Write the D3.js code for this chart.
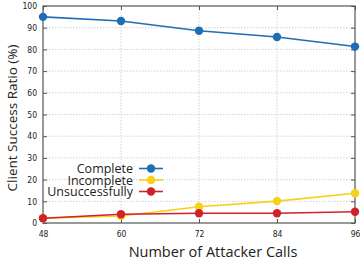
<!DOCTYPE html>
<html><head><meta charset="utf-8">
<script src="https://cdn.jsdelivr.net/npm/d3@7"></script>
<style>body{margin:0;background:#fff}svg{display:block}</style>
</head><body><svg id="c" width="360" height="262"></svg>
<script>
const categories = [48, 60, 72, 84, 96];
const complete = [95, 93.1, 88.6, 85.7, 81.3];
const incomplete = [2.2, 3.2, 7.5, 10.1, 13.7];
const unsuccessfully = [2.2, 4.0, 4.5, 4.5, 5.2];
const yTicks = [0,10,20,30,40,50,60,70,80,90,100];
const seriesNames = ["Complete", "Incomplete", "Unsuccessfully"];
const colors = ["#1f6db5", "#f7d118", "#d0222a"];
const series = [complete, incomplete, unsuccessfully];

const svg = d3.select("#c");
const m = {l:43, r:355, t:6, b:223};
const x = d3.scaleLinear().domain([48,96]).range([m.l, m.r]);
const y = d3.scaleLinear().domain([0,100]).range([m.b, m.t]);
const tickFont = "'DejaVu Sans Condensed', 'DejaVu Sans', sans-serif";
const font = "'Open Sans', 'Noto Sans', sans-serif";

// grid
const g = svg.append("g");
g.selectAll(".gx").data(categories.slice(1,-1)).enter().append("line")
  .attr("x1", d=>x(d)).attr("x2", d=>x(d)).attr("y1", m.t).attr("y2", m.b)
  .attr("stroke", "#c8c8c8").attr("stroke-width", 0.8).attr("stroke-dasharray", "1.5,1.5");
g.selectAll(".gy").data(yTicks.slice(1,-1)).enter().append("line")
  .attr("x1", m.l).attr("x2", m.r).attr("y1", d=>y(d)).attr("y2", d=>y(d))
  .attr("stroke", "#c8c8c8").attr("stroke-width", 0.8).attr("stroke-dasharray", "1.5,1.5");

// axes
const axB = d3.axisBottom(x).tickValues(categories).tickSizeInner(-4).tickSizeOuter(0).tickPadding(8);
const axL = d3.axisLeft(y).tickValues(yTicks).tickSizeInner(-4).tickSizeOuter(0).tickPadding(6);
const axT = d3.axisTop(x).tickValues(categories).tickSizeInner(-4).tickSizeOuter(0).tickFormat("");
const axR = d3.axisRight(y).tickValues(yTicks).tickSizeInner(-4).tickSizeOuter(0).tickFormat("");
function style(sel){
  sel.select(".domain").remove();
  sel.selectAll("line").attr("stroke", "#555").attr("stroke-width", 1);
  sel.selectAll("text").attr("font-family", tickFont).attr("font-size", "8.5px").attr("fill", "#222");
}
svg.append("g").attr("transform", `translate(0,${m.b})`).call(axB).call(style);
svg.append("g").attr("transform", `translate(${m.l},0)`).call(axL).call(style);
svg.append("g").attr("transform", `translate(0,${m.t})`).call(axT).call(style);
svg.append("g").attr("transform", `translate(${m.r},0)`).call(axR).call(style);
svg.append("rect").attr("x", m.l).attr("y", m.t).attr("width", m.r-m.l).attr("height", m.b-m.t)
  .attr("fill", "none").attr("stroke", "#555").attr("stroke-width", 1.2);

// lines
const line = d3.line().x((d,i)=>x(categories[i])).y(d=>y(d));
[1,2,0].forEach(k => {
  svg.append("path").datum(series[k]).attr("d", line).attr("fill", "none")
    .attr("stroke", colors[k]).attr("stroke-width", 1.6);
  svg.selectAll(null).data(series[k]).enter().append("circle")
    .attr("cx", (d,i)=>x(categories[i])).attr("cy", d=>y(d)).attr("r", 4.2)
    .attr("fill", colors[k]);
});

// legend
const ly = [168.5, 180, 191.5];
seriesNames.forEach((n,k) => {
  svg.append("text").attr("x", 133).attr("y", ly[k]).attr("dy", "0.36em")
    .attr("text-anchor", "end").attr("font-family", font).attr("font-size", "12.5px")
    .attr("fill", "#222").text(n);
  svg.append("line").attr("x1", 139).attr("x2", 163).attr("y1", ly[k]).attr("y2", ly[k])
    .attr("stroke", colors[k]).attr("stroke-width", 1.6);
  svg.append("circle").attr("cx", 151).attr("cy", ly[k]).attr("r", 4.2).attr("fill", colors[k]);
});

// titles
svg.append("text").attr("x", 213).attr("y", 257).attr("text-anchor", "middle")
  .attr("font-family", font).attr("font-size", "14.5px").attr("fill", "#222").text("Number of Attacker Calls");
svg.append("text").attr("transform", `translate(17,${118}) rotate(-90)`).attr("text-anchor", "middle")
  .attr("font-family", font).attr("font-size", "13.5px").attr("fill", "#222").text("Client Success Ratio (%)");
</script></body></html>
